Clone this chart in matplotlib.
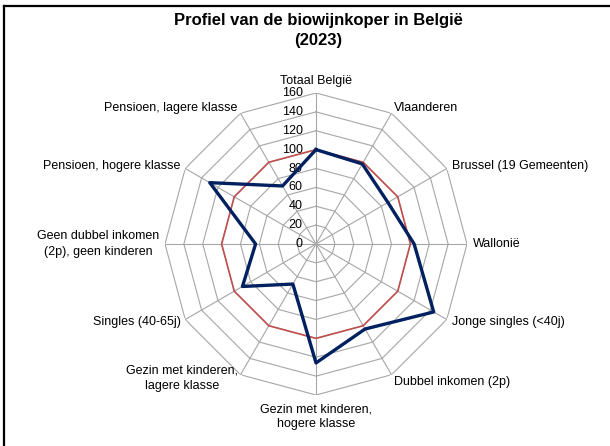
import numpy as np
import matplotlib.pyplot as plt
from matplotlib.lines import Line2D

plt.rcParams['font.family'] = ['Liberation Sans', 'DejaVu Sans']

categories = [
    "Totaal België", "Vlaanderen", "Brussel (19 Gemeenten)", "Wallonië",
    "Jonge singles (<40j)", "Dubbel inkomen (2p)", "Gezin met kinderen,\nhogere klasse",
    "Gezin met kinderen,\nlagere klasse", "Singles (40-65j)",
    "Geen dubbel inkomen\n(2p), geen kinderen", "Pensioen, hogere klasse",
    "Pensioen, lagere klasse",
]
biowijn = [100, 98, 88, 104, 144, 104, 126, 49, 90, 64, 130, 71]
referentie = [100] * 12
r_ticks = [0, 20, 40, 60, 80, 100, 120, 140, 160]

GRID = "#a6a6a6"
BLUE = "#002060"
RED = "#c0504d"

fig = plt.figure(figsize=(6.1, 4.46), dpi=100)
W, H = 610, 446
cx, cy, R = 316, 244, 151
ax = fig.add_axes([(cx - R) / W, (H - cy - R) / H, 2 * R / W, 2 * R / H], projection="polar")
ax.set_theta_zero_location("N")
ax.set_theta_direction(-1)
ax.set_ylim(0, 160)
ax.grid(False)
ax.spines["polar"].set_visible(False)
ax.set_xticks([])
ax.set_yticks([])
ax.patch.set_alpha(0)

n = len(categories)
angles = np.arange(n) * 2 * np.pi / n
closed = np.append(angles, angles[0])

# polygon grid + spokes
for r in r_ticks[1:]:
    ax.plot(closed, [r] * (n + 1), color=GRID, lw=0.8, zorder=1)
for a in angles:
    ax.plot([a, a], [0, 160], color=GRID, lw=0.8, zorder=1)

ax.plot(closed, referentie + referentie[:1], color=RED, lw=1.2, zorder=3)
ax.plot(closed, biowijn + biowijn[:1], color=BLUE, lw=2.4, zorder=4)

# radial tick labels
for r in r_ticks:
    ax.annotate(str(r), xy=(0, r), xytext=(-9.5, 0), textcoords="offset points",
                ha="right", va="center", fontsize=9, color="#000000")

# category labels
for a, lab in zip(angles, categories):
    deg = round(np.degrees(a)) % 360
    dx, dy = np.sin(a) * 4, np.cos(a) * 4
    if deg == 0:
        ha, va = "center", "bottom"
    elif deg == 180:
        ha, va = "center", "top"
        dy -= 2
    elif deg < 180:
        ha, va = "left", "center"
    else:
        ha, va = "right", "center"
    if deg in (30, 330):
        dy += 0.5
    if deg == 150:
        dy -= 2
    if deg == 210:
        dy += 1
    ax.annotate(lab, xy=(a, 160), xytext=(dx, dy), textcoords="offset points",
                ha=ha, va=va, fontsize=9, multialignment="center", linespacing=1.35)

fig.text(318 / W, 1 - 20 / H, "Profiel van de biowijnkoper in België",
         ha="center", va="center", fontsize=12, fontweight="bold")
fig.text(318 / W, 1 - 40 / H, "(2023)", ha="center", va="center",
         fontsize=12, fontweight="bold")

# frame (left and top edges visible)
fig.add_artist(Line2D([4 / W, 4 / W], [0, 1 - 6 / H], color="black", lw=1.6,
                      transform=fig.transFigure))
fig.add_artist(Line2D([4 / W, 1], [1 - 6 / H, 1 - 6 / H], color="black", lw=1.6,
                      transform=fig.transFigure))

fig.savefig("out.png", dpi=100)
